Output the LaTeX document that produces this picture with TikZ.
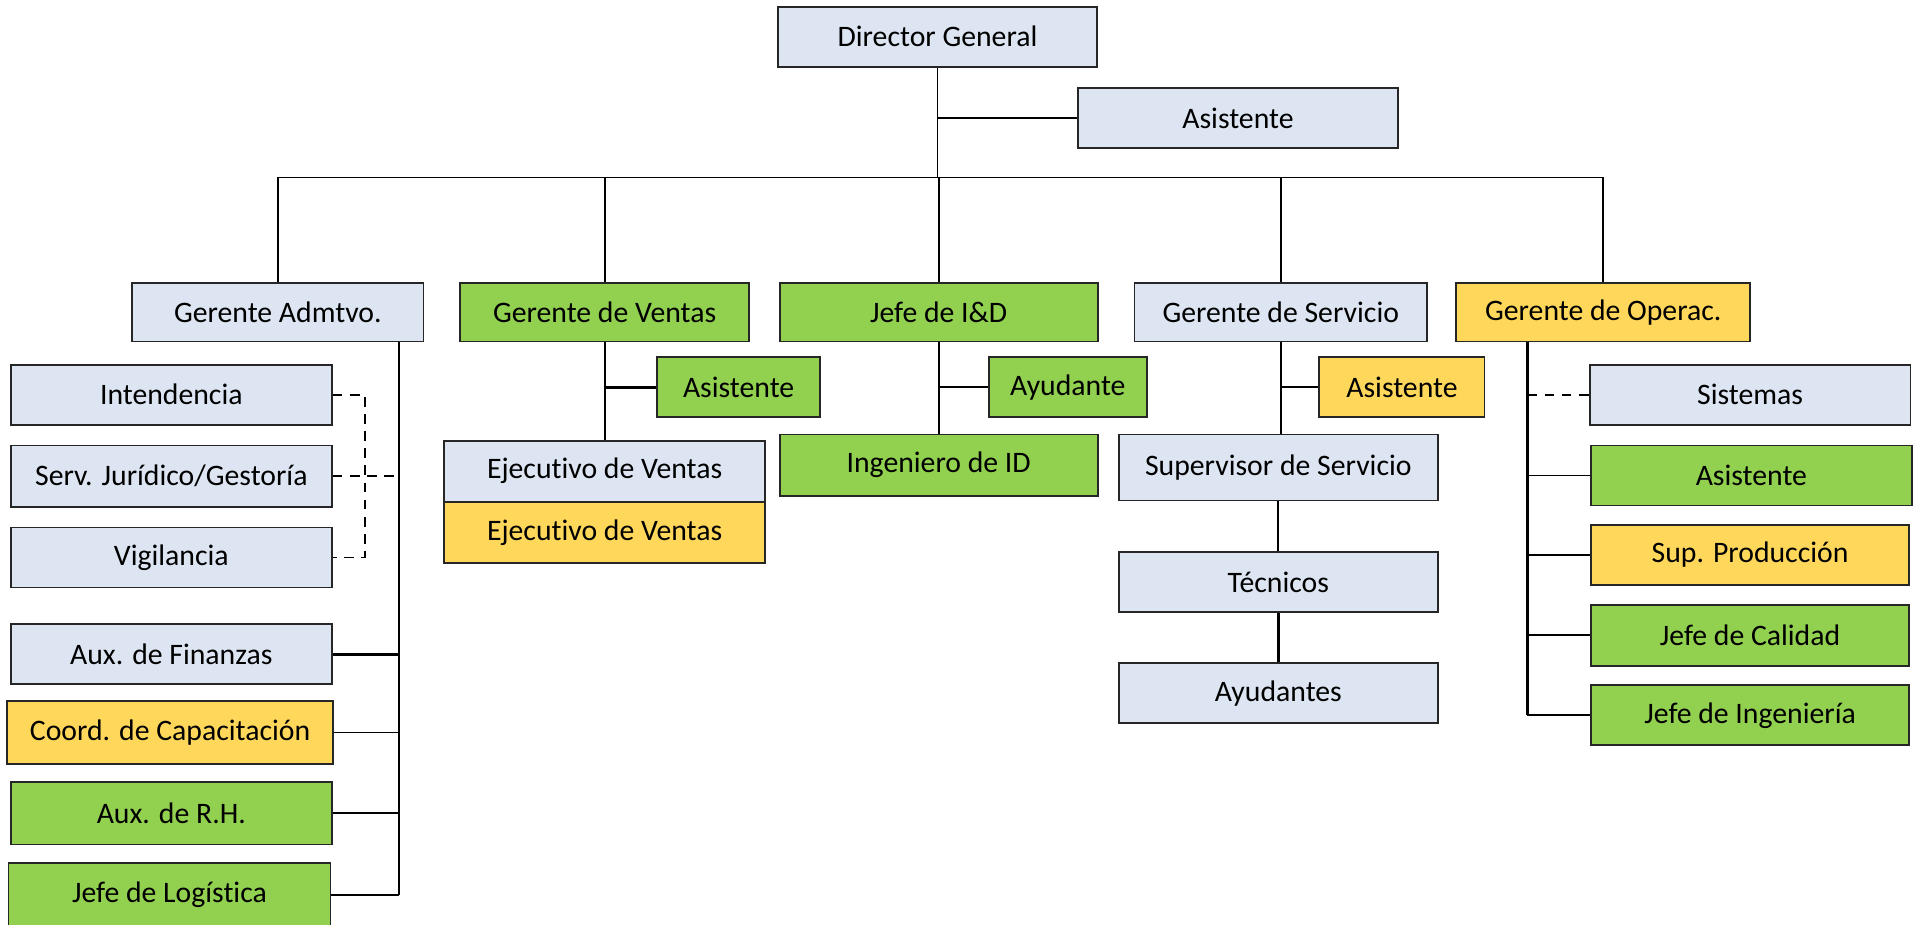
\documentclass[tikz,border=0pt]{standalone}
\usepackage{fontspec}
\setmainfont{Carlito}[Ligatures=NoCommon]
\usetikzlibrary{positioning}
\definecolor{azulclaro}{HTML}{DCE5F1}
\definecolor{verde}{HTML}{92D050}
\definecolor{amarillo}{HTML}{FFD75A}

\begin{document}
\begin{tikzpicture}[x=1pt, y=-1pt, line width=1.5pt,
  every node/.style={font=\fontsize{24.3}{28}\selectfont},
  caja/.style={draw=black!85, line width=1.5pt, inner sep=0pt, minimum height=49pt},
  azul/.style={caja, fill=azulclaro},
  verdecaja/.style={caja, fill=verde},
  amarcaja/.style={caja, fill=amarillo},
  punteada/.style={dash pattern=on 8pt off 6pt}]
\useasboundingbox (0,0) rectangle (1568,755);
% Direccion
\node[azul, minimum width=260pt] (dg) at (766,30) {Director General};
\node[azul, minimum width=261pt] (asis) at (1011.5,96.5) {Asistente};
\coordinate (bus) at (766,145);
% Gerencias
\node[azul, minimum width=238pt, minimum height=48pt] (adm) at (227,255) {Gerente Admtvo.};
\node[verdecaja, minimum width=236pt, minimum height=48pt] (ven) at (494,255) {Gerente de Ventas};
\node[verdecaja, minimum width=260pt, minimum height=48pt] (id) at (767,255) {Jefe de I\&D};
\node[azul, minimum width=239pt, minimum height=48pt] (ser) at (1046.5,255) {Gerente de Servicio};
\node[amarcaja, minimum width=240pt, minimum height=48pt] (ope) at (1310,255) {Gerente de Operac.};
% Area administrativa
\node[azul, minimum width=262pt] (inte) at (140,322.5) {Intendencia};
\node[azul, minimum width=262pt, minimum height=50pt] (jur) at (140,389) {Serv. Jurídico/Gestoría};
\node[azul, minimum width=262pt] (vig) at (140,455.5) {Vigilancia};
\node[azul, minimum width=262pt] (fin) at (140,534.5) {Aux. de Finanzas};
\node[amarcaja, minimum width=266pt, minimum height=51pt] (cap) at (139,598.5) {Coord. de Capacitación};
\node[verdecaja, minimum width=262pt, minimum height=51pt] (rh) at (140,664.5) {Aux. de R.H.};
\node[verdecaja, minimum width=263pt, minimum height=52pt] (log) at (138.5,731) {Jefe de Logística};
% Ventas
\node[verdecaja, minimum width=133pt] (asv) at (603.5,316.5) {Asistente};
\node[azul, minimum width=262pt, minimum height=50pt] (ej1) at (494,385) {Ejecutivo de Ventas};
\node[amarcaja, minimum width=262pt, minimum height=50pt] (ej2) at (494,435) {Ejecutivo de Ventas};
% I&D
\node[verdecaja, minimum width=129pt] (ayu) at (872.5,316.5) {Ayudante};
\node[verdecaja, minimum width=260pt, minimum height=50pt] (ing) at (767,380) {Ingeniero de ID};
% Servicio
\node[amarcaja, minimum width=135pt] (ass) at (1145.5,316.5) {Asistente};
\node[azul, minimum width=261pt, minimum height=54pt] (sup) at (1044.5,382) {Supervisor de Servicio};
\node[azul, minimum width=261pt] (tec) at (1044.5,475.5) {Técnicos};
\node[azul, minimum width=261pt] (ayd) at (1044.5,566.5) {Ayudantes};
% Operaciones
\node[azul, minimum width=262pt] (sis) at (1430,322.5) {Sistemas};
\node[verdecaja, minimum width=262pt] (aso) at (1431,388.5) {Asistente};
\node[amarcaja, minimum width=260pt] (pro) at (1430,453.5) {Sup. Producción};
\node[verdecaja, minimum width=260pt, minimum height=50pt] (cal) at (1430,519) {Jefe de Calidad};
\node[verdecaja, minimum width=260pt] (jing) at (1430,584.5) {Jefe de Ingeniería};
% Lineas principales
\draw (dg.south) -- (bus);
\draw (dg.south |- asis.west) -- (asis.west);
\draw (adm.north |- bus) -- (ope.north |- bus);
\foreach \g in {adm, ven, id, ser, ope}
  \draw (\g.north |- bus) -- (\g.north);
% Admtvo.
\coordinate (admv) at ([xshift=-21pt]adm.south east);
\coordinate (dashv) at (298,0);
\draw (admv) -- (admv |- log.east);
\draw[punteada] (inte.east) -- (dashv |- inte.east) -- (dashv |- vig.east) -- (vig.east);
\draw[punteada] (jur.east) -- (admv |- jur.east);
\draw[line width=2.2pt] (fin.east) -- (admv |- fin.east);
\foreach \n in {cap, rh, log}
  \draw (\n.east) -- (admv |- \n.east);
% Ventas
\draw (ven.south) -- (ven.south |- ej1.north);
\draw[line width=2.2pt] (ven.south |- asv.west) -- (asv.west);
% I&D
\draw (id.south) -- (ing.north);
\draw (id.south |- ayu.west) -- (ayu.west);
% Servicio
\draw (ser.south) -- (ser.south |- sup.north);
\draw (ser.south |- ass.west) -- (ass.west);
\draw (sup.south) -- (tec.north);
\draw[line width=2.2pt] (tec.south) -- (ayd.north);
% Operac.
\coordinate (opev) at (1248,0);
\draw[line width=2.2pt] (opev |- ope.south) -- (opev |- jing.west);
\draw[punteada] (opev |- sis.west) -- (sis.west);
\foreach \n in {aso, pro, cal, jing}
  \draw (opev |- \n.west) -- (\n.west);
\end{tikzpicture}
\end{document}
